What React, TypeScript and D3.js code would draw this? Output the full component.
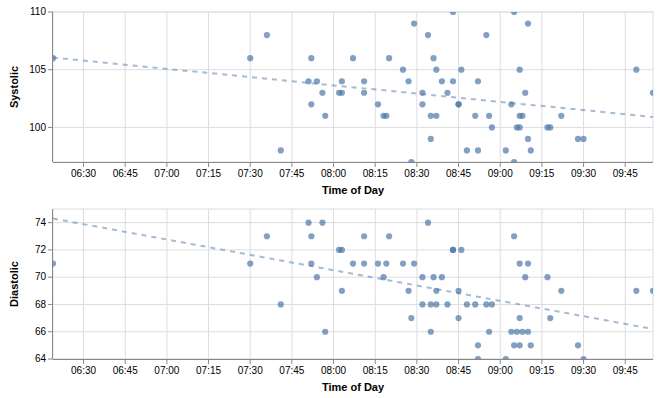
import * as d3 from "d3";

const times = [
  "06:19", "07:30", "07:36", "07:41", "07:51", "07:52", "07:52", "07:54", "07:56", "07:57",
  "08:02", "08:03", "08:03", "08:07", "08:11", "08:11", "08:16", "08:18", "08:19", "08:20",
  "08:25", "08:27", "08:28", "08:29", "08:32", "08:32", "08:34", "08:35", "08:35", "08:36",
  "08:37", "08:37", "08:39", "08:41", "08:43", "08:43", "08:45", "08:45", "08:46", "08:48",
  "08:51", "08:52", "08:52", "08:55", "08:56", "08:57", "09:02", "09:04", "09:05", "09:05",
  "09:06", "09:07", "09:07", "09:07", "09:08", "09:09", "09:10", "09:10", "09:11", "09:17",
  "09:18", "09:22", "09:28", "09:30", "09:49", "09:55",
];

const systolic = [
  106, 106, 108, 98, 104, 106, 102, 104, 103, 101,
  103, 103, 104, 106, 104, 103, 102, 101, 101, 106,
  105, 104, 97, 109, 103, 102, 108, 101, 99, 106,
  105, 101, 104, 103, 110, 104, 102, 102, 105, 98,
  101, 104, 98, 108, 101, 100, 98, 102, 110, 97,
  100, 100, 105, 101, 101, 103, 109, 99, 98, 100,
  100, 101, 99, 99, 105, 103,
];

const diastolic = [
  71, 71, 73, 68, 74, 73, 71, 70, 74, 66,
  72, 72, 69, 71, 73, 71, 71, 70, 71, 73,
  71, 69, 67, 71, 70, 68, 74, 68, 66, 70,
  69, 68, 70, 68, 72, 72, 69, 67, 72, 68,
  68, 65, 64, 68, 66, 68, 64, 66, 73, 65,
  66, 71, 67, 65, 66, 70, 71, 66, 65, 70,
  67, 69, 65, 64, 69, 69,
];

// trend line ends (at first / last time)
const systolicTrend = [106.05, 100.9];
const diastolicTrend = [74.3, 66.2];

const systolicDomain = [97, 110];
const systolicTicks = [100, 105, 110];
const diastolicDomain = [64, 75];
const diastolicTicks = [64, 66, 68, 70, 72, 74];

const parse = d3.timeParse("%H:%M");
const fmt = d3.timeFormat("%H:%M");
const timeDates = times.map((t) => parse(t) as Date);

const W = 659;
const H = 398;
const ml = 53;
const pw = 600;
const ph = 150;
const color = "#4c78a8";
const font = "'Liberation Sans', Arial, sans-serif";

const x = d3
  .scaleTime()
  .domain(d3.extent(timeDates) as [Date, Date])
  .range([ml, ml + pw]);
const xTicks = x.ticks(d3.timeMinute.every(15) as d3.TimeInterval);

type PanelProps = {
  id: string;
  top: number;
  values: number[];
  domain: number[];
  ticks: number[];
  trend: number[];
  title: string;
};

const Panel = ({ id, top, values, domain, ticks, trend, title }: PanelProps) => {
  const y = d3.scaleLinear().domain(domain).range([top + ph, top]);
  const [x0, x1] = x.domain();
  const line = d3
    .line<[Date, number]>()
    .x((d) => x(d[0]))
    .y((d) => y(d[1]));
  return (
    <g>
      <defs>
        <clipPath id={id}>
          <rect x={ml} y={top} width={pw} height={ph} />
        </clipPath>
      </defs>
      {/* grid */}
      {xTicks.map((t, i) => (
        <line key={"gx" + i} x1={x(t)} x2={x(t)} y1={top} y2={top + ph} stroke="#ddd" />
      ))}
      {ticks.map((t, i) => (
        <line key={"gy" + i} x1={ml} x2={ml + pw} y1={y(t)} y2={y(t)} stroke="#ddd" />
      ))}
      <rect x={ml} y={top} width={pw} height={ph} fill="none" stroke="#ddd" />
      {/* marks */}
      <g clipPath={`url(#${id})`}>
        {values.map((v, i) => (
          <circle key={i} cx={x(timeDates[i])} cy={y(v)} r={3.1} fill={color} opacity={0.7} />
        ))}
        <path
          d={line([
            [x0, trend[0]],
            [x1, trend[1]],
          ]) as string}
          fill="none"
          stroke={color}
          strokeOpacity={0.5}
          strokeWidth={2}
          strokeDasharray="5,5"
        />
      </g>
      {/* x axis */}
      <line x1={ml} x2={ml + pw} y1={top + ph + 0.5} y2={top + ph + 0.5} stroke="#888" />
      {xTicks.map((t, i) => (
        <g key={"xt" + i}>
          <line x1={x(t)} x2={x(t)} y1={top + ph} y2={top + ph + 5} stroke="#888" />
          <text x={x(t)} y={top + ph + 15} textAnchor="middle" fontSize={10} fill="#000">
            {fmt(t)}
          </text>
        </g>
      ))}
      <text x={ml + pw / 2} y={top + ph + 32} textAnchor="middle" fontSize={11} fontWeight="bold">
        Time of Day
      </text>
      {/* y axis */}
      <line x1={ml - 0.5} x2={ml - 0.5} y1={top} y2={top + ph} stroke="#888" />
      {ticks.map((t, i) => (
        <g key={"yt" + i}>
          <line x1={ml - 5} x2={ml} y1={y(t)} y2={y(t)} stroke="#888" />
          <text x={ml - 7} y={y(t)} dy="0.32em" textAnchor="end" fontSize={10} fill="#000">
            {t}
          </text>
        </g>
      ))}
      <text
        transform={`translate(18, ${top + ph / 2}) rotate(-90)`}
        textAnchor="middle"
        fontSize={11}
        fontWeight="bold"
      >
        {title}
      </text>
    </g>
  );
};

export default function App() {
  return (
    <svg
      width={W}
      height={H}
      style={{ position: "absolute", left: 0, top: 0, fontFamily: font, background: "#fff" }}
    >
      <Panel
        id="clip-sys"
        top={12}
        values={systolic}
        domain={systolicDomain}
        ticks={systolicTicks}
        trend={systolicTrend}
        title="Systolic"
      />
      <Panel
        id="clip-dia"
        top={209}
        values={diastolic}
        domain={diastolicDomain}
        ticks={diastolicTicks}
        trend={diastolicTrend}
        title="Diastolic"
      />
    </svg>
  );
}
